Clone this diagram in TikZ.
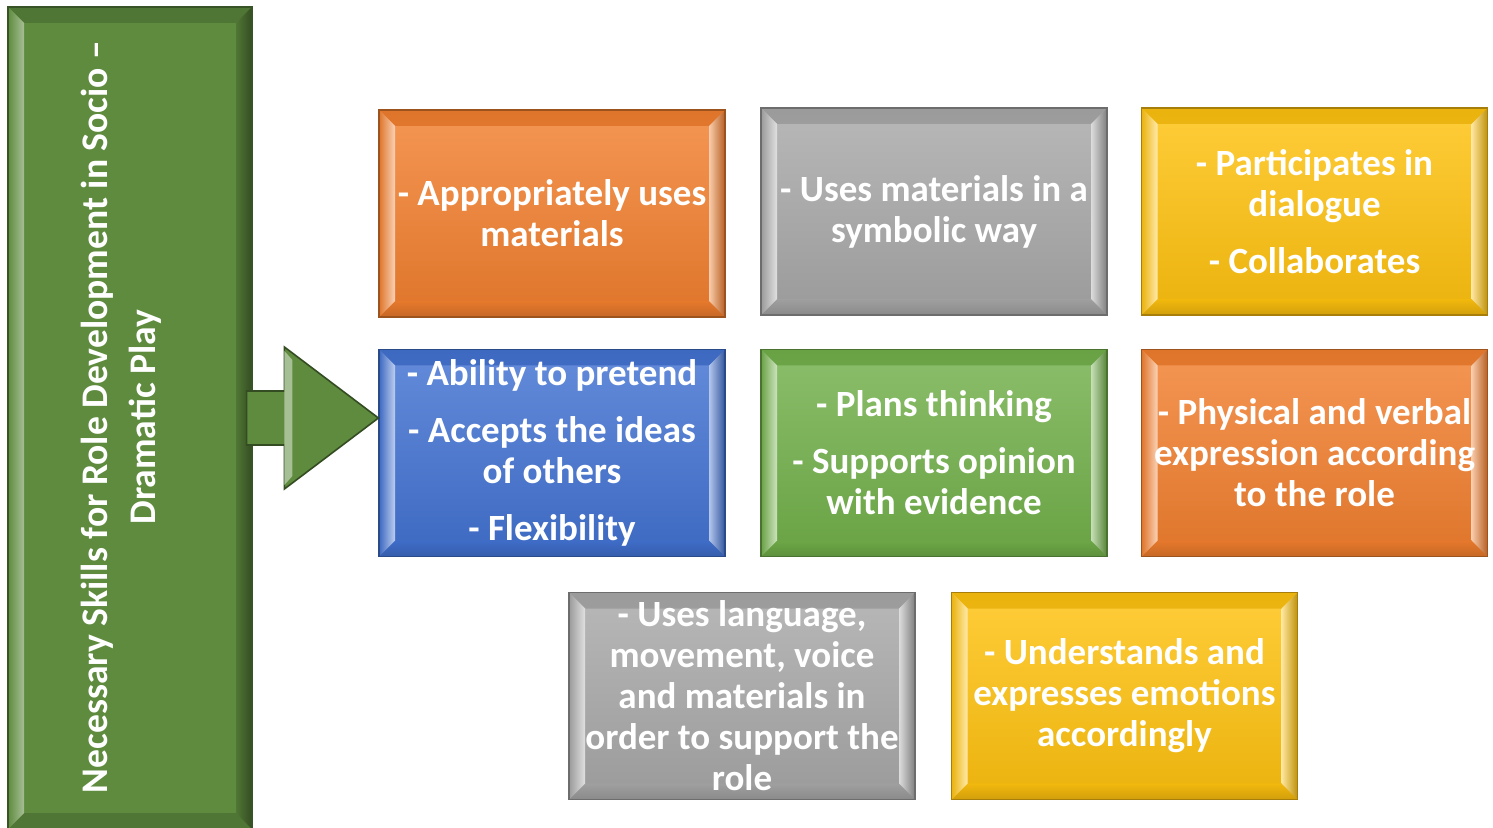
\documentclass[tikz,border=0pt]{standalone}
\usepackage{fontspec}
\setmainfont{Carlito}
\usetikzlibrary{calc}
\definecolor{cOrange}{HTML}{F27F2E}
\definecolor{cGray}{HTML}{A8A8A8}
\definecolor{cYellow}{HTML}{FFC20E}
\definecolor{cBlue}{HTML}{4272D2}
\definecolor{cGreen}{HTML}{72B04A}
\definecolor{cDark}{HTML}{5E8B3E}
\tikzset{
  bev/.style={rectangle, inner sep=0pt, minimum width=173pt, minimum height=103.5pt,
    top color=#1!82!white, bottom color=#1!92!black, draw=#1!65!black, line width=0.6pt,
    path picture={
      \def\bw{8pt}
      \shade[top color=#1!92!black, bottom color=#1!82!white]
        (path picture bounding box.north west) -- (path picture bounding box.north east)
        -- ([shift={(-\bw,-\bw)}]path picture bounding box.north east)
        -- ([shift={(\bw,-\bw)}]path picture bounding box.north west) -- cycle;
      \shade[top color=#1!95!black, bottom color=#1!82!black]
        (path picture bounding box.south west) -- (path picture bounding box.south east)
        -- ([shift={(-\bw,\bw)}]path picture bounding box.south east)
        -- ([shift={(\bw,\bw)}]path picture bounding box.south west) -- cycle;
      \shade[left color=#1!92!black, right color=#1!35!white]
        (path picture bounding box.north west)
        -- ([shift={(\bw,-\bw)}]path picture bounding box.north west)
        -- ([shift={(\bw,\bw)}]path picture bounding box.south west)
        -- (path picture bounding box.south west) -- cycle;
      \shade[left color=#1!40!white, right color=#1!75!black]
        (path picture bounding box.north east)
        -- ([shift={(-\bw,-\bw)}]path picture bounding box.north east)
        -- ([shift={(-\bw,\bw)}]path picture bounding box.south east)
        -- (path picture bounding box.south east) -- cycle;
    }},
  titlebox/.style={rectangle, inner sep=0pt, minimum width=122pt, minimum height=411pt,
    fill=cDark, draw=cDark!60!black, line width=0.6pt,
    path picture={
      \def\bw{8pt}
      \fill[cDark!85!black]
        (path picture bounding box.north west) -- (path picture bounding box.north east)
        -- ([shift={(-\bw,-\bw)}]path picture bounding box.north east)
        -- ([shift={(\bw,-\bw)}]path picture bounding box.north west) -- cycle;
      \fill[cDark!85!black]
        (path picture bounding box.south west) -- (path picture bounding box.south east)
        -- ([shift={(-\bw,\bw)}]path picture bounding box.south east)
        -- ([shift={(\bw,\bw)}]path picture bounding box.south west) -- cycle;
      \shade[left color=cDark, right color=cDark!55!white]
        (path picture bounding box.north west)
        -- ([shift={(\bw,-\bw)}]path picture bounding box.north west)
        -- ([shift={(\bw,\bw)}]path picture bounding box.south west)
        -- (path picture bounding box.south west) -- cycle;
      \shade[left color=cDark!85!black, right color=cDark!55!black]
        (path picture bounding box.north east)
        -- ([shift={(-\bw,-\bw)}]path picture bounding box.north east)
        -- ([shift={(-\bw,\bw)}]path picture bounding box.south east)
        -- (path picture bounding box.south east) -- cycle;
    }},
  lbl/.style={text=white, font=\bfseries\fontsize{18.5}{20.5}\selectfont, align=center, inner sep=0pt},
  ttl/.style={text=white, font=\bfseries\fontsize{18.8}{24}\selectfont, align=center, inner sep=0pt, rotate=90},
  arrowfill/.style={fill=cDark, draw=cDark!55!black, line width=0.8pt, line join=miter}
}
\begin{document}
\begin{tikzpicture}[x=0.5pt,y=-0.5pt]
\useasboundingbox (0,0) rectangle (1493,828);
% title column
\node[titlebox] (title) at (130,418) {};
\node[ttl] (ttext) at (121,417) {Necessary Skills for Role Development in Socio –\\Dramatic Play};
% skill boxes
\node[bev=cOrange] (b1) at (552,213.5) {};
\node[bev=cGray]   (b2) at (934,211.5) {};
\node[bev=cYellow] (b3) at (1314.5,211.5) {};
\node[bev=cBlue]   (b4) at (552,453) {};
\node[bev=cGreen]  (b5) at (934,453) {};
\node[bev=cOrange] (b6) at (1314.5,453) {};
\node[bev=cGray]   (b7) at (742,696) {};
\node[bev=cYellow] (b8) at (1124.5,696) {};
% texts
\node[lbl] (t1) at (b1) {- Appropriately uses\\materials};
\node[lbl] (t2) at (b2) {- Uses materials in a\\symbolic way};
\node[lbl] (t3) at (b3) {- Participates in\\dialogue\\[8pt]- Collaborates};
\node[lbl] (t4) at (b4) {- Ability to pretend\\[8pt]- Accepts the ideas\\of others\\[8pt]- Flexibility};
\node[lbl] (t5) at (b5) {- Plans thinking\\[8pt]- Supports opinion\\with evidence};
\node[lbl] (t6) at (b6) {- Physical and verbal\\expression according\\to the role};
\node[lbl] (t7) at (b7) {- Uses language,\\movement, voice\\and materials in\\order to support the\\role};
\node[lbl] (t8) at (b8) {- Understands and\\expresses emotions\\accordingly};
% arrow from title to skills
\coordinate (T) at (b4.west |- title.east);
\coordinate (S) at (title.east);
\draw[arrowfill] ($(S)+(-6,-27)$) -- ($(T)+(-94,-27)$) -- ($(T)+(-94,-71)$) -- (T)
  -- ($(T)+(-94,71)$) -- ($(T)+(-94,27)$) -- ($(S)+(-6,27)$) -- cycle;
\fill[cDark!55!white] ($(T)+(-94,-67)$) -- ($(T)+(-86,-58)$) -- ($(T)+(-86,58)$) -- ($(T)+(-94,67)$) -- cycle;
\end{tikzpicture}
\end{document}
